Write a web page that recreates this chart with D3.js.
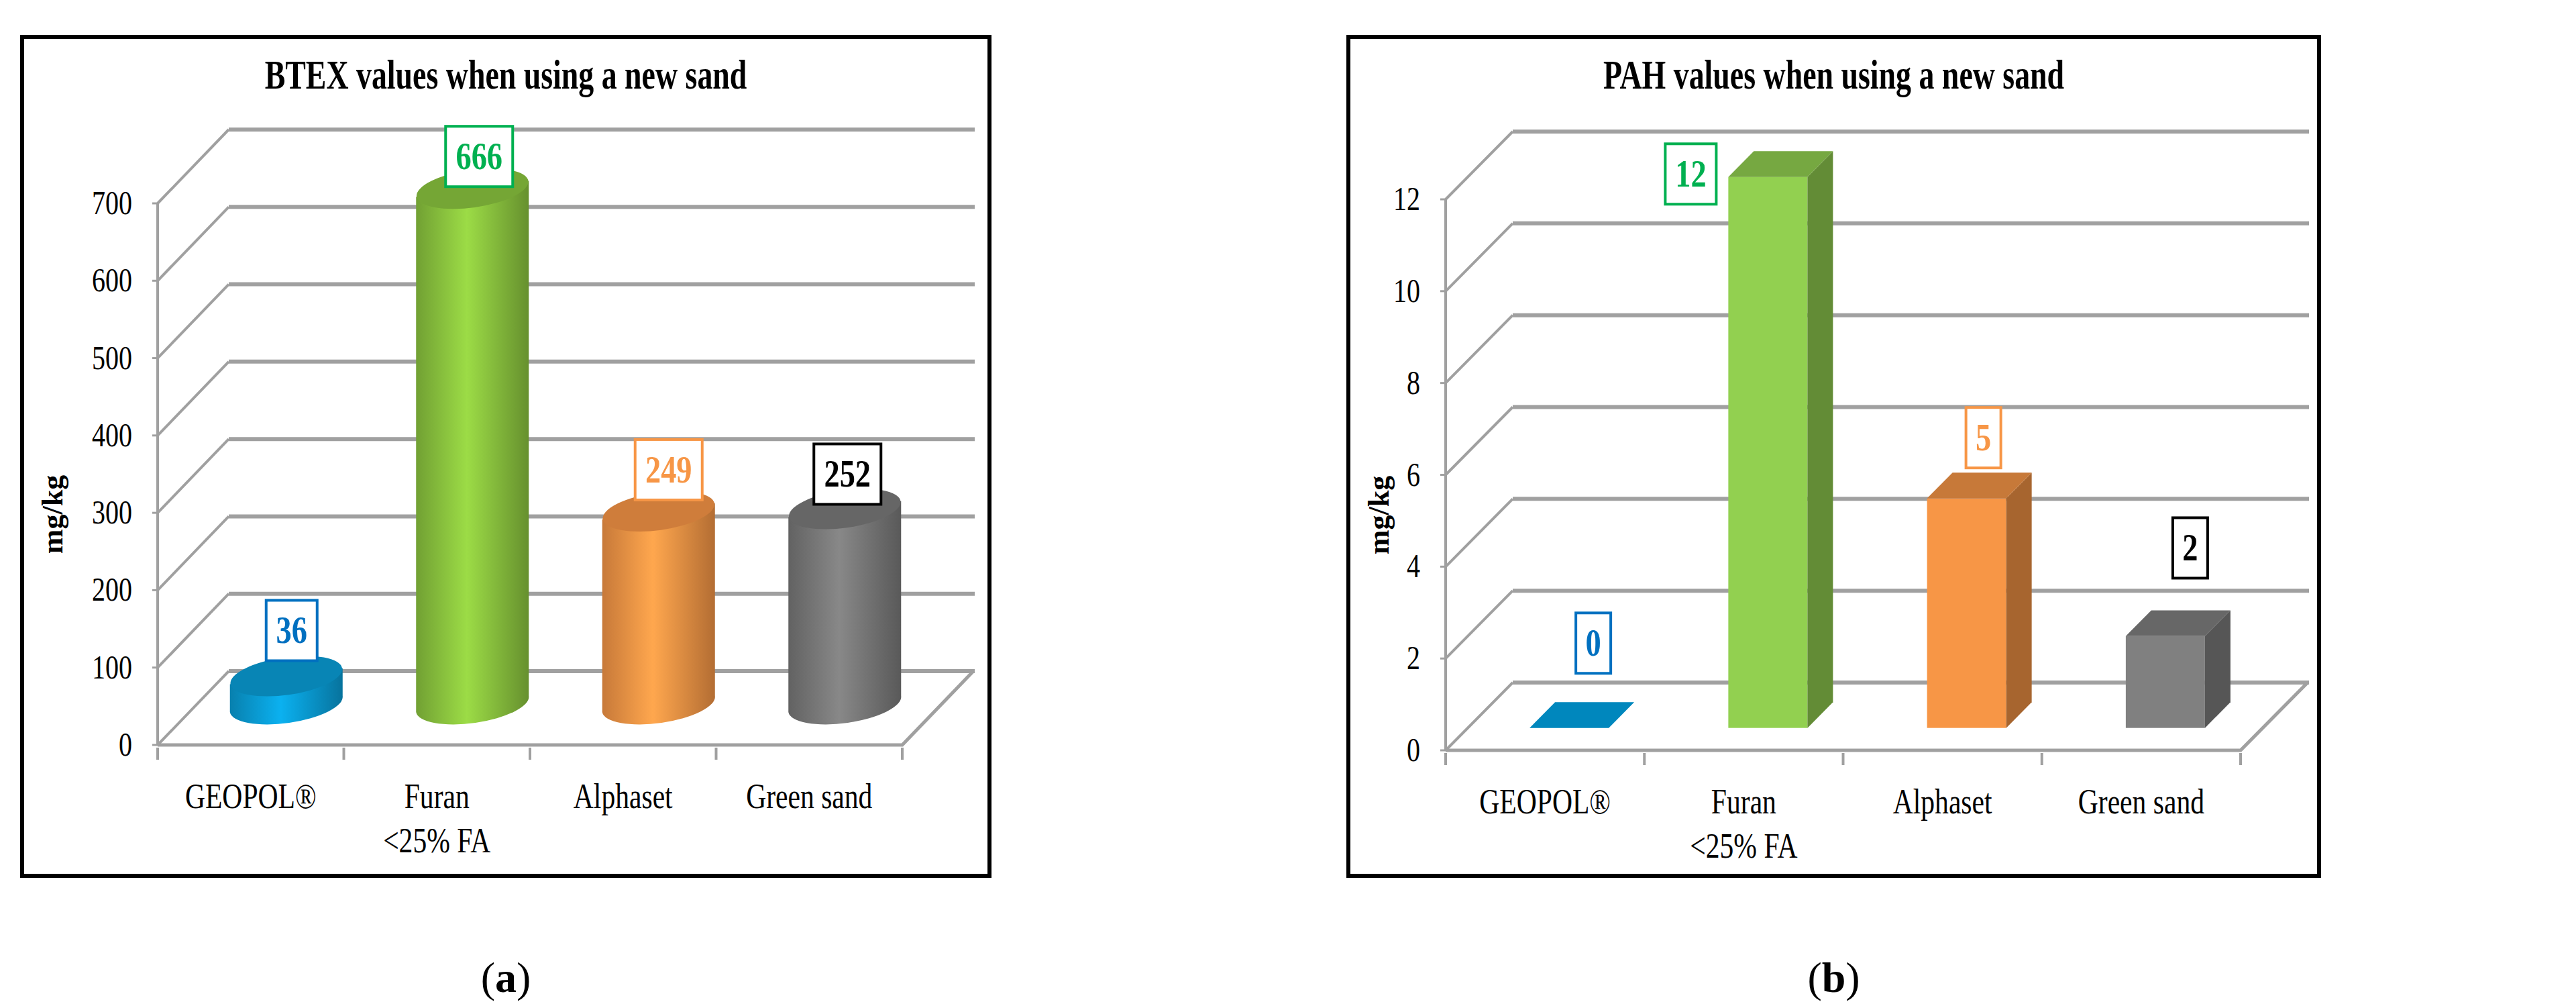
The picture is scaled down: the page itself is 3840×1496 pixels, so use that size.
<!DOCTYPE html>
<html><head><meta charset="utf-8">
<script src="https://cdn.jsdelivr.net/npm/d3@7"></script>
<style>body{margin:0;background:#fff}svg{display:block}</style>
</head><body>
<svg id="c" width="3840" height="1496"></svg>
<script>
const categories = ["GEOPOL®", "Furan\n<25% FA", "Alphaset", "Green sand"];
const btexValues = [36, 666, 249, 252];
const pahValues = [0, 12, 5, 2];
const btexTicks = [0, 100, 200, 300, 400, 500, 600, 700];
const pahTicks = [0, 2, 4, 6, 8, 10, 12];
const colors = ["#0a9fd8", "#8cc63f", "#f79646", "#7a7a7a"];
const boxColors = ["#0087bd", "#92d050", "#f79646", "#808080"];
const labelColors = ["#0070c0", "#00b050", "#f79646", "#000000"];

const svg = d3.select("#c");
const serif = "'Liberation Serif', 'DejaVu Serif', serif";

function txt(g, x, y, s, size, opt = {}) {
  return g.append("text")
    .attr("transform", `translate(${x},${y}) scale(${opt.sx || 0.82},1)`)
    .attr("text-anchor", opt.anchor || "middle")
    .attr("font-family", serif).attr("font-size", size)
    .attr("font-weight", opt.bold ? "bold" : "normal")
    .attr("fill", opt.fill || "#000").text(s);
}

const defs = svg.append("defs");
colors.forEach((c, i) => {
  const gr = defs.append("linearGradient").attr("id", "cyl" + i);
  const base = d3.color(c);
  [[0, base.darker(0.6)], [0.45, base.brighter(0.3)], [1, base.darker(0.9)]].forEach(([o, col]) =>
    gr.append("stop").attr("offset", o).attr("stop-color", col));
});

function panel(cfg) {
  const g = svg.append("g");
  const { x0, x1, y0, y1, max, ticks, values, dx, dy } = cfg;
  g.append("rect").attr("x", cfg.bx).attr("y", 55).attr("width", cfg.bw).attr("height", 1250)
    .attr("fill", "none").attr("stroke", "#000").attr("stroke-width", 6);
  txt(g, cfg.bx + cfg.bw / 2, 132, cfg.title, 62, { bold: true, sx: 0.74 });

  const y = d3.scaleLinear().domain([0, max]).range([y0, y1]);
  const x = d3.scaleBand().domain(categories).range([x0, x1]);
  const gridC = "#a0a0a0";
  ticks.forEach(t => {
    g.append("line").attr("x1", x0 + dx).attr("x2", x1 + dx + 2)
      .attr("y1", y(t) + dy).attr("y2", y(t) + dy).attr("stroke", gridC).attr("stroke-width", 6);
    g.append("line").attr("x1", x0).attr("x2", x0 + dx)
      .attr("y1", y(t)).attr("y2", y(t) + dy).attr("stroke", gridC).attr("stroke-width", 4);
  });
  g.append("line").attr("x1", x0).attr("x2", x0).attr("y1", y0).attr("y2", y(max))
    .attr("stroke", gridC).attr("stroke-width", 4);
  g.append("path").attr("d", `M${x0},${y0}H${x1}L${x1 + dx},${y0 + dy}`)
    .attr("fill", "none").attr("stroke", gridC).attr("stroke-width", 5);
  ticks.forEach(t => {
    g.append("line").attr("x1", x0 - 8).attr("x2", x0).attr("y1", y(t)).attr("y2", y(t)).attr("stroke", gridC).attr("stroke-width", 3);
    txt(g, x0 - 38, y(t) + 16, t, 50, { anchor: "end", sx: 0.8 });
  });
  categories.concat([null]).forEach((c, i) => {
    const xx = x0 + i * x.step();
    g.append("line").attr("x1", xx).attr("x2", xx).attr("y1", y0 + 4).attr("y2", y0 + 22).attr("stroke", gridC).attr("stroke-width", 4);
  });
  categories.forEach(c => {
    c.split("\n").forEach((ln, j) => txt(g, x(c) + x.bandwidth() / 2, y0 + 94 + j * 66, ln, 52, { sx: 0.8 }));
  });
  txt(g, 0, 0, "mg/kg", 44, { bold: true, sx: 1 })
    .attr("transform", `translate(${cfg.bx + 60},${(y0 + y1) / 2 + 60}) rotate(-90)`);
  txt(g, cfg.bx + cfg.bw / 2, 1478, "", 64, { sx: 1 })
    .call(t => { t.append("tspan").text("("); t.append("tspan").attr("font-weight", "bold").text(cfg.letter); t.append("tspan").text(")"); });

  values.forEach((v, i) => {
    const c = categories[i];
    const cx = x(c) + x.bandwidth() / 2;
    const lab = cfg.labelOff[i];
    let topY;
    if (cfg.kind === "cyl") {
      const mx = cx + dx / 2, by = y(0) + dy / 2, ty = y(v) + dy / 2, rx = 84, ry = 28;
      const rot = -8;
      const gg = g.append("g");
      gg.append("path")
        .attr("d", `M${mx - rx},${ty + 6}V${by + 6}A${rx},${ry} ${rot} 0 0 ${mx + rx},${by - 18}V${ty - 18}Z`)
        .attr("fill", `url(#cyl${i})`);
      gg.append("ellipse").attr("cx", mx).attr("cy", ty - 6).attr("rx", rx).attr("ry", ry)
        .attr("transform", `rotate(${rot},${mx},${ty - 6})`).attr("fill", d3.color(colors[i]).darker(0.5));
      topY = ty - 6 - ry;
    } else {
      const f = 0.33, w = 118, dd = 0.38;
      const fx = cx - w / 2 + dx * f + 3, fy0 = y(0) + dy * f, fy = y(v) + dy * f;
      const ox = dx * dd, oy = dy * dd;
      const base = d3.color(boxColors[i]);
      if (v > 0) {
        g.append("rect").attr("x", fx).attr("y", fy).attr("width", w).attr("height", fy0 - fy).attr("fill", base);
        g.append("path").attr("d", `M${fx + w},${fy}l${ox},${oy}V${fy0 + oy}l${-ox},${-oy}Z`).attr("fill", base.darker(1.1));
      }
      g.append("path").attr("d", `M${fx},${fy}l${ox},${oy}h${w}l${-ox},${-oy}Z`).attr("fill", v > 0 ? base.darker(0.6) : base);
      topY = fy + oy;
    }
    const lx = cx + lab[0], ly = topY + lab[1];
    const s = String(v), bw = 28 + s.length * 24;
    g.append("rect").attr("x", lx - bw / 2).attr("y", ly - 90).attr("width", bw).attr("height", 90)
      .attr("fill", "#fff").attr("stroke", labelColors[i]).attr("stroke-width", 4);
    txt(g, lx, ly - 26, s, 58, { bold: true, fill: labelColors[i], sx: 0.8 });
  });
}

panel({ bx: 33, bw: 1442, title: "BTEX values when using a new sand", letter: "a",
  x0: 235, x1: 1345, y0: 1110, y1: 303, max: 700, ticks: btexTicks,
  values: btexValues, dx: 106, dy: -110, kind: "cyl",
  labelOff: [[61, 5], [63, 25], [68, 11], [57, 21]] });
panel({ bx: 2010, bw: 1447, title: "PAH values when using a new sand", letter: "b",
  x0: 2155, x1: 3340, y0: 1118, y1: 297, max: 12, ticks: pahTicks,
  values: pahValues, dx: 100, dy: -101, kind: "box",
  labelOff: [[72, -43], [-79, 79], [61, -7], [73, -48]] });
</script>
</body></html>
